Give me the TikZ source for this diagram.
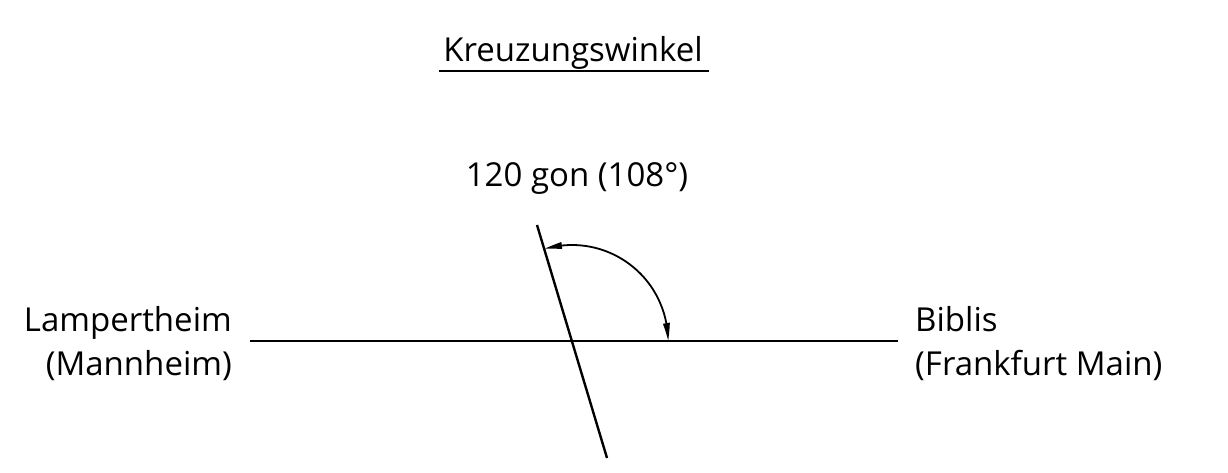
\documentclass[tikz,border=0pt]{standalone}
\usepackage{fontspec}
\setmainfont{Open Sans}
\usetikzlibrary{arrows.meta,bending}
\tikzset{
  lbl/.style={inner sep=0pt, font=\fontsize{33}{44}\selectfont},
  thickline/.style={line width=2.4pt},
  dimarc/.style={line width=1.8pt, {Triangle[length=18pt,width=6.5pt,bend]}-{Triangle[length=18pt,width=6.5pt,bend]}},
}
\begin{document}
\begin{tikzpicture}[x=1pt,y=-1pt]
\useasboundingbox (0,0) rectangle (1228,473);
% title
\node[lbl, anchor=base] (title) at (573,62) {Kreuzungswinkel};
\draw[line width=2pt] (439,71) -- (709,71);
% angle label
\node[lbl, anchor=base] (ang) at (577,187) {120 gon (108°)};
% lines
\coordinate (hl) at (250,341);
\coordinate (hr) at (898,341);
\coordinate (sa) at (537,225);
\coordinate (sb) at (607,458);
\coordinate (arcstart) at (668,341);
\draw[thickline] (hl) -- (hr);
\draw[thickline] (sa) -- (sb);
\draw[dimarc] (arcstart) arc[start angle=0, end angle=-106.8, radius=96];
% side labels
\node[lbl, anchor=base east, align=right] (left) at (232,375) {Lampertheim\\(Mannheim)};
\node[lbl, anchor=base west, align=left] (right) at (915,375) {Biblis\\(Frankfurt Main)};
\end{tikzpicture}
\end{document}
